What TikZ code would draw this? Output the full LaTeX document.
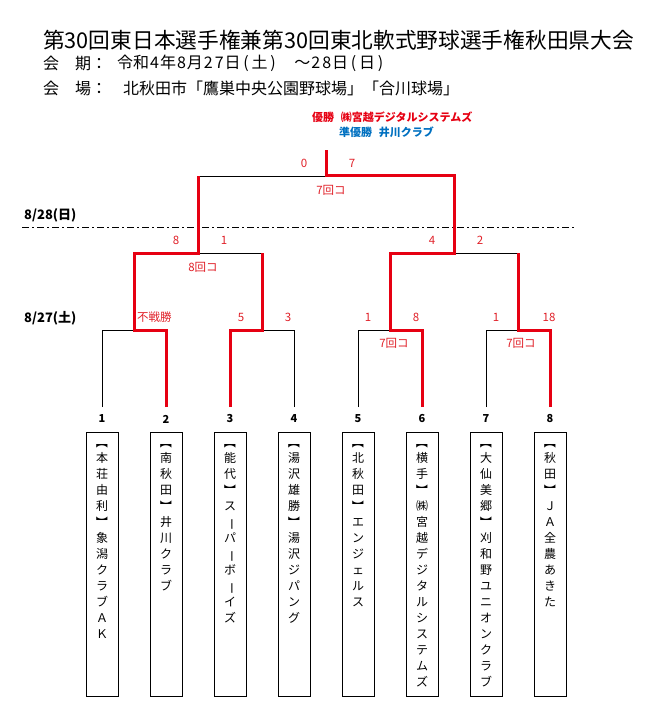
\documentclass[tikz,border=0pt]{standalone}
\usepackage{fontspec}
\usepackage{graphicx}
\setmainfont{Noto Sans CJK JP}
\definecolor{tred}{RGB}{230,0,18}
\definecolor{sred}{RGB}{224,32,40}
\definecolor{nblue}{RGB}{0,112,192}
\newcommand\tateopen{\rotatebox[origin=c]{-90}{【}}
\newcommand\tateclose{\rotatebox[origin=c]{-90}{】}}
\newcommand\tatebar{\rotatebox[origin=c]{-90}{ー}}
\newcommand\hw[1]{\makebox[0.68em]{#1}}
\begin{document}
\begin{tikzpicture}[x=1pt,y=-1pt,
    loseline/.style={line width=0.8pt},
    winline/.style={draw=tred,line width=3pt},
    score/.style={text=sred,inner sep=0pt,font=\fontsize{11.5}{12}\selectfont},
    daylabel/.style={anchor=west,inner sep=0pt,font=\bfseries\fontsize{13}{14}\selectfont},
    seed/.style={inner sep=0pt,font=\bfseries\fontsize{11}{12}\selectfont},
    teambox/.style={draw,line width=0.8pt,minimum width=32pt,minimum height=264pt,anchor=north,inner sep=0pt},
    teamname/.style={anchor=north,align=center,inner sep=0pt,font=\fontsize{12}{16}\selectfont}]
    \useasboundingbox (0,0) rectangle (653,722);

    % header
    \node[anchor=west,inner sep=0pt,font=\fontsize{21.7}{24}\selectfont] (title) at (43,40) {第30回東日本選手権兼第30回東北軟式野球選手権秋田県大会};
    \node[anchor=west,inner sep=0pt,font=\fontsize{16}{18}\selectfont] (kaiki) at (43,63) {会\hspace{1em}期：};
    \node[anchor=west,inner sep=0pt,font=\fontsize{16}{18}\selectfont] (dates) at (117,63) {令和\hw{4}年\hw{8}月\hw{2}\hw{7}日\hw{(}土\hw{)}\hspace{1em}～\hw{2}\hw{8}日\hw{(}日\hw{)}};
    \node[anchor=west,inner sep=0pt,font=\fontsize{16}{18}\selectfont] (kaijo) at (43,88) {会\hspace{1em}場：};
    \node[anchor=west,inner sep=0pt,font=\fontsize{16}{18}\selectfont] (venue) at (123,88) {北秋田市「鷹巣中央公園野球場」「合川球場」};

    \node[anchor=west,inner sep=0pt,text=tred,font=\bfseries\fontsize{11}{12}\selectfont] (champ) at (312,117) {優勝\hspace{0.6em}㈱宮越デジタルシステムズ};
    \node[anchor=west,inner sep=0pt,text=nblue,font=\bfseries\fontsize{11}{12}\selectfont] (runner) at (339,132) {準優勝\hspace{0.6em}井川クラブ};

    % days
    \node[daylabel] (day2) at (24,215) {8/28(日)};
    \node[daylabel] (day1) at (24,318) {8/27(土)};
    \draw[line width=0.8pt,dash pattern=on 7pt off 3pt on 2pt off 3pt] (22,227) coordinate (dl) -- (574,227) coordinate (dr);

    % teams
    \foreach \i/\x in {1/102,2/166,3/230,4/294,5/358,6/422,7/486,8/550}{
        \node[seed] (n\i) at (\x,419) {\i};
        \node[teambox] (b\i) at (\x,432) {};
        \coordinate (t\i) at (\x,407);
        \coordinate (u\i) at (\x,330);
    }
    \node[teamname] (name1) at (102,436) {\tateopen\\本\\荘\\由\\利\\\tateclose\\象\\潟\\ク\\ラ\\ブ\\Ａ\\Ｋ};
    \node[teamname] (name2) at (166,436) {\tateopen\\南\\秋\\田\\\tateclose\\井\\川\\ク\\ラ\\ブ};
    \node[teamname] (name3) at (230,436) {\tateopen\\能\\代\\\tateclose\\ス\\\tatebar\\パ\\\tatebar\\ボ\\\tatebar\\イ\\ズ};
    \node[teamname] (name4) at (294,436) {\tateopen\\湯\\沢\\雄\\勝\\\tateclose\\湯\\沢\\ジ\\パ\\ン\\グ};
    \node[teamname] (name5) at (358,436) {\tateopen\\北\\秋\\田\\\tateclose\\エ\\ン\\ジ\\ェ\\ル\\ス};
    \node[teamname] (name6) at (422,436) {\tateopen\\横\\手\\\tateclose\\㈱\\宮\\越\\デ\\ジ\\タ\\ル\\シ\\ス\\テ\\ム\\ズ};
    \node[teamname] (name7) at (486,436) {\tateopen\\大\\仙\\美\\郷\\\tateclose\\刈\\和\\野\\ユ\\ニ\\オ\\ン\\ク\\ラ\\ブ};
    \node[teamname] (name8) at (550,436) {\tateopen\\秋\\田\\\tateclose\\Ｊ\\Ａ\\全\\農\\あ\\き\\た};

    % bracket
    \coordinate (j12) at (134,330);
    \coordinate (j34) at (262,330);
    \coordinate (j56) at (390,330);
    \coordinate (j78) at (518,330);
    \coordinate (k12) at (134,253);
    \coordinate (k34) at (262,253);
    \coordinate (k56) at (390,253);
    \coordinate (k78) at (518,253);
    \coordinate (s12) at (198,253);
    \coordinate (s56) at (454,253);
    \coordinate (h12) at (198,176);
    \coordinate (h56) at (454,176);
    \coordinate (fin) at (326,176);
    \coordinate (top) at (326,150);

    \draw[loseline] (t1) -- (u1) -- (j12);
    \draw[loseline] (t4) -- (u4) -- (j34);
    \draw[loseline] (t5) -- (u5) -- (j56);
    \draw[loseline] (t7) -- (u7) -- (j78);
    \draw[loseline] (k34) -- (s12);
    \draw[loseline] (k78) -- (s56);
    \draw[loseline] (h12) -- (fin);

    \draw[winline] (t2) -- (u2) -- (j12) -- (k12) -- (s12) -- (h12);
    \draw[winline] (t3) -- (u3) -- (j34) -- (k34);
    \draw[winline] (t8) -- (u8) -- (j78) -- (k78);
    \draw[winline] (t6) -- (u6) -- (j56) -- (k56) -- (s56) -- (h56) -- (fin) -- (top);

    % scores
    \node[score] (fl) at (304,163) {0};
    \node[score] (fr) at (352,163) {7};
    \node[score] (fc) at (331,190) {7回コ};
    \node[score] (sl1) at (176,240) {8};
    \node[score] (sr1) at (224,240) {1};
    \node[score] (sc1) at (203,267) {8回コ};
    \node[score] (sl2) at (432,240) {4};
    \node[score] (sr2) at (480,240) {2};
    \node[score,anchor=west] (ql1) at (137,317) {不戦勝};
    \node[score] (ql2) at (241,317) {5};
    \node[score] (qr2) at (288,317) {3};
    \node[score] (ql3) at (368,317) {1};
    \node[score] (qr3) at (416,317) {8};
    \node[score] (qc3) at (394,343) {7回コ};
    \node[score] (ql4) at (496,317) {1};
    \node[score] (qr4) at (549,317) {18};
    \node[score] (qc4) at (521,343) {7回コ};
\end{tikzpicture}
\end{document}
